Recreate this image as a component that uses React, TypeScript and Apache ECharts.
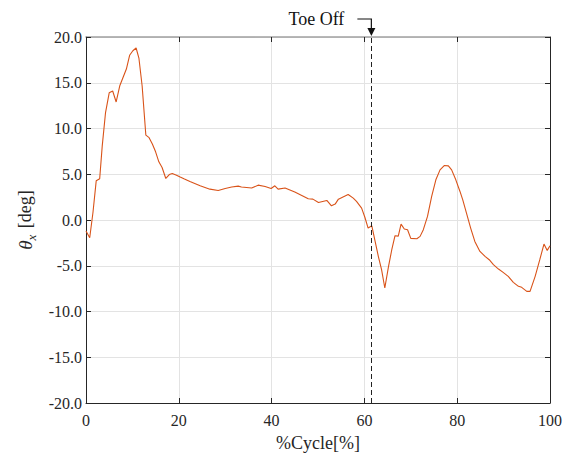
import React, { useEffect, useRef } from "react";
import * as echarts from "echarts";

const cyclePct: number[] = [
  0, 0.8, 1.5, 2.2, 2.95, 3.5, 4.2, 5.0, 5.75, 6.5, 7.3, 8.0, 8.7, 9.4, 10.1, 10.8, 11.4, 12.1, 12.9, 13.6,
  14.3, 15.0, 15.7, 16.4, 17.2, 17.95, 18.6, 19.5, 20.3, 21.1, 22.4, 24.6, 26.7, 28.5, 30.0, 31.4, 32.8, 33.5,
  35.7, 37.1, 38.6, 39.9, 40.7, 41.4, 42.9, 45.0, 46.5, 47.9, 48.9, 50.1, 51.9, 52.9, 53.7, 54.4, 56.5, 57.6,
  58.3, 59.4, 60.1, 60.8, 61.6, 62.3, 63.0, 63.7, 64.4, 65.2, 65.9, 66.6, 67.3, 67.9, 68.6, 69.3, 70.0, 71.3,
  72.0, 72.7, 73.6, 74.5, 75.4, 76.3, 77.2, 78.1, 78.8, 79.7, 80.6, 81.2, 82.0, 82.9, 83.8, 84.9, 86.0, 86.9,
  87.8, 88.9, 89.9, 91.0, 92.1, 93.2, 93.9, 95.0, 95.7, 96.8, 97.8, 98.7, 99.4, 100,
];

const thetaX: number[] = [
  -1.2, -1.94, 0.82, 4.28, 4.5, 8.1, 11.7, 13.9, 14.1, 12.9, 14.7, 15.6, 16.5, 18.0, 18.5, 18.8, 17.7, 14.65, 9.27, 9.0,
  8.3, 7.45, 6.36, 5.74, 4.54, 4.97, 5.08, 4.9, 4.69, 4.5, 4.2, 3.74, 3.37, 3.23, 3.45, 3.6, 3.7, 3.6,
  3.49, 3.81, 3.66, 3.45, 3.74, 3.37, 3.49, 3.05, 2.68, 2.32, 2.28, 1.92, 2.14, 1.55, 1.74, 2.28, 2.79, 2.39,
  2.03, 1.3, 0.3, -0.88, -0.63, -2.3, -3.97, -5.43, -7.43, -5.07, -3.25, -1.72, -1.76, -0.45, -0.99, -1.06, -2.01, -2.05,
  -1.79, -1.06, 0.39, 2.57, 4.39, 5.48, 5.95, 5.92, 5.48, 4.39, 3.12, 2.2, 0.76, -0.88, -2.34, -3.43, -3.97, -4.34,
  -4.88, -5.36, -5.72, -6.16, -6.81, -7.25, -7.36, -7.8, -7.8, -6.16, -4.34, -2.63, -3.32, -2.81,
];

const toeOff = 61.5;
const toeOffLabel = "Toe Off";
const xName = "%Cycle[%]";

const FONT = "Liberation Serif";
const TXT = "#262626";

export default function App() {
  const ref = useRef<HTMLDivElement>(null);
  useEffect(() => {
    if (!ref.current) return;
    const chart = echarts.init(ref.current, undefined, { renderer: "svg" });
    chart.setOption({
      animation: false,
      backgroundColor: "#ffffff",
      textStyle: { fontFamily: FONT },
      grid: { left: 86, right: 15, top: 37, bottom: 53.5, containLabel: false },
      xAxis: [
        {
          type: "value",
          position: "bottom",
          min: 0,
          max: 100,
          interval: 20,
          name: xName,
          nameLocation: "middle",
          nameGap: 31,
          nameTextStyle: { fontFamily: FONT, fontSize: 18, color: TXT },
          axisLine: { show: true, onZero: false, lineStyle: { color: TXT, width: 1 } },
          axisTick: { show: true, inside: true, length: 5, lineStyle: { color: TXT } },
          axisLabel: {
            show: true,
            margin: 9,
            fontFamily: FONT,
            fontSize: 16,
            color: TXT,
          },
          splitLine: { show: true, lineStyle: { color: "#e3e3e3", width: 1 } },
        },
        {
          type: "value",
          position: "top",
          min: 0,
          max: 100,
          interval: 20,
          axisLine: { show: true, onZero: false, lineStyle: { color: "#a0a0a0", width: 1.6 } },
          axisTick: { show: true, inside: true, length: 5, lineStyle: { color: TXT } },
          axisLabel: { show: false },
          splitLine: { show: false },
        },
      ],
      yAxis: [
        {
          type: "value",
          position: "left",
          min: -20,
          max: 20,
          interval: 5,
          name: "{i|θ}{sub|x} [deg]",
          nameLocation: "middle",
          nameGap: 48,
          nameRotate: 90,
          nameTextStyle: {
            fontFamily: FONT,
            fontSize: 18,
            color: TXT,
            rich: {
              i: { fontFamily: FONT, fontSize: 19, fontStyle: "italic", color: TXT },
              sub: { fontFamily: FONT, fontSize: 13, fontStyle: "italic", color: TXT, padding: [12, 2, 0, 0] },
            },
          },
          axisLine: { show: true, onZero: false, lineStyle: { color: TXT, width: 1 } },
          axisTick: { show: true, inside: true, length: 5, lineStyle: { color: TXT } },
          axisLabel: {
            show: true,
            margin: 4,
            fontFamily: FONT,
            fontSize: 16,
            color: TXT,
            formatter: (v: number) => v.toFixed(1),
          },
          splitLine: { show: true, lineStyle: { color: "#e3e3e3", width: 1 } },
        },
        {
          type: "value",
          position: "right",
          min: -20,
          max: 20,
          interval: 5,
          axisLine: { show: true, onZero: false, lineStyle: { color: TXT, width: 1 } },
          axisTick: { show: true, inside: true, length: 5, lineStyle: { color: TXT } },
          axisLabel: { show: false },
          splitLine: { show: false },
        },
      ],
      series: [
        {
          type: "line",
          data: cyclePct.map((x, i) => [x, thetaX[i]]),
          showSymbol: false,
          symbol: "none",
          lineStyle: { color: "#D95319", width: 1.1 },
          markLine: {
            silent: true,
            symbol: "none",
            label: { show: false },
            lineStyle: { color: "#222", type: [5, 3], width: 1 },
            data: [{ xAxis: toeOff }],
          },
        },
      ],
    });
    const px = chart.convertToPixel({ xAxisIndex: 0 }, toeOff) as number;
    const top = 37;
    chart.setOption({
      graphic: [
        {
          type: "text",
          x: px - 27,
          y: 19,
          style: {
            text: toeOffLabel,
            fontFamily: FONT,
            fontSize: 18,
            fill: "#111",
            align: "right",
            verticalAlign: "middle",
          },
        },
        {
          type: "polyline",
          shape: { points: [[px - 14, 19], [px, 19], [px, top - 9]] },
          style: { stroke: "#111", lineWidth: 1.2, fill: "none" },
        },
        {
          type: "polygon",
          shape: { points: [[px - 4, top - 9], [px + 4, top - 9], [px, top - 1]] },
          style: { fill: "#111" },
        },
      ],
    });
    return () => chart.dispose();
  }, []);
  return (
    <div
      ref={ref}
      style={{ position: "absolute", left: 0, top: 0, width: 565, height: 457, background: "#fff" }}
    />
  );
}
